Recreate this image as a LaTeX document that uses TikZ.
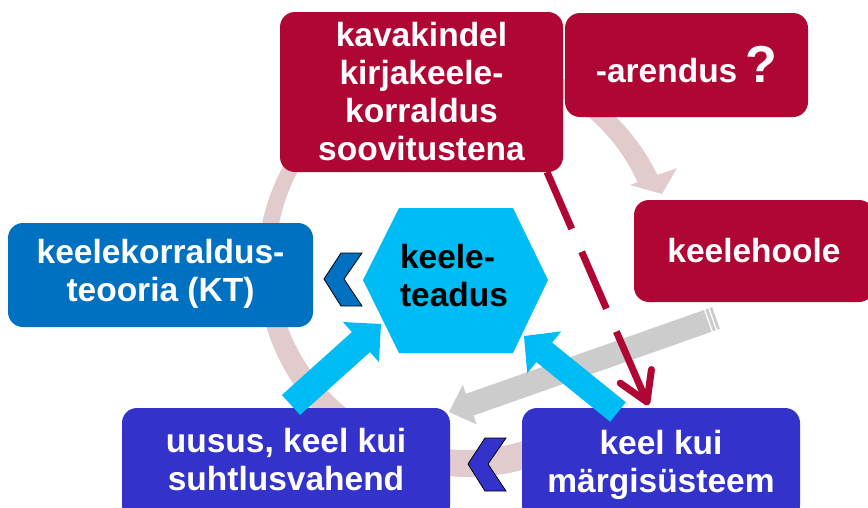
\documentclass[tikz,border=0pt]{standalone}
\usepackage{fontspec}
\setmainfont{Liberation Sans}
\usetikzlibrary{calc}
\definecolor{crim}{RGB}{176,6,52}
\definecolor{ktblue}{RGB}{0,112,192}
\definecolor{purp}{RGB}{51,51,204}
\definecolor{cyanb}{RGB}{0,188,245}
\definecolor{ringc}{RGB}{226,203,205}
\definecolor{grayc}{RGB}{204,204,204}
\newcommand\blockarr[6]{%
  \coordinate (ba-b) at ($(#3)!#6!(#2)$);
  \fill[#1] ($(#2)!#4!90:(#3)$) -- ($(ba-b)!#4!90:(#3)$) -- ($(ba-b)!#5!90:(#3)$) -- (#3)
    -- ($(ba-b)!#5!-90:(#3)$) -- ($(ba-b)!#4!-90:(#3)$) -- ($(#2)!#4!-90:(#3)$) -- cycle;
}
\tikzset{
  boxfont/.style={font=\fontsize{33.5}{38}\selectfont\bfseries},
  box/.style={rectangle, rounded corners=15pt, inner sep=0pt, align=center, text=white, boxfont},
  redbox/.style={box, fill=crim},
  ktbox/.style={box, fill=ktblue},
  purpbox/.style={box, fill=purp},
  chev/.style={draw=black, line width=0.8pt, line join=miter},
}
\begin{document}
\begin{tikzpicture}[x=1pt,y=-1pt]
\useasboundingbox (0,0) rectangle (868,507);
\clip (0,0) rectangle (868,507);
\fill[white] (0,0) rectangle (868,507);

% ring arrow
\fill[ringc] plot[domain=60:334.2, samples=120] ({468+210.4*cos(\x)},{266.6+210.4*sin(\x)})
  -- (677,168) -- (662,194) -- (630,185)
  -- plot[domain=335.6:60, samples=120] ({465+189.5*cos(\x)},{260.5+189.5*sin(\x)}) -- cycle;

% boxes
\node[redbox, minimum width=283pt, minimum height=160pt] (kav) at (421.5,92)
  {kavakindel\\kirjakeele-\\korraldus\\soovitustena};
\node[redbox, minimum width=243pt, minimum height=104pt] (aren) at (686.5,65)
  {-arendus\hspace{8pt}{\fontsize{52}{52}\selectfont ?}};
\node[redbox, minimum width=240pt, minimum height=102pt] (hoole) at (754,251) {keelehoole};
\node[ktbox, minimum width=305pt, minimum height=104pt, text depth=10pt] (kt) at (160.5,275)
  {keelekorraldus-\\teooria (KT)};
\node[purpbox, minimum width=328pt, minimum height=112pt, text depth=9pt] (uus) at (286,464)
  {uusus, keel kui\\suhtlusvahend};
\node[purpbox, minimum width=278pt, minimum height=112pt, text depth=6pt] (marg) at (661,464)
  {keel kui\\märgisüsteem};

% hexagon
\fill[cyanb] (399,208) -- (513,208) -- (548,280) -- (513,353) -- (399,353) -- (363,280) -- cycle;
\node[align=left, inner sep=0pt, boxfont, text=black] (hex) at (454,276) {keele-\\teadus};

% chevrons
\filldraw[chev, fill=ktblue] (341,253) -- (362,253) -- (344,279) -- (362,306) -- (341,306) -- (324,279) -- cycle;
\filldraw[chev, fill=purp] (485,438) -- (506,438) -- (488,464) -- (506,491) -- (485,491) -- (468,464) -- cycle;

% gray striped arrow
\coordinate (ga-s) at (716,318);
\coordinate (ga-t) at (449,412);
\blockarr{grayc}{ga-s}{ga-t}{11.5pt}{21pt}{22pt}
\coordinate (ga-1) at ($(ga-s)!3.5pt!(ga-t)$);
\coordinate (ga-2) at ($(ga-s)!8pt!(ga-t)$);
\draw[white, line width=1.3pt] ($(ga-1)!13pt!90:(ga-t)$) -- ($(ga-1)!13pt!-90:(ga-t)$);
\draw[white, line width=1.3pt] ($(ga-2)!13pt!90:(ga-t)$) -- ($(ga-2)!13pt!-90:(ga-t)$);

% red dashed arrow
\coordinate (rd-s) at (547,172);
\coordinate (rd-t) at (647,402);
\draw[crim, line width=7pt, dash pattern=on 62pt off 25pt on 62pt off 25pt on 300pt off 1pt, shorten >=4pt] (rd-s) -- (rd-t);
\coordinate (rd-b) at ($(rd-t)!28pt!(rd-s)$);
\draw[crim, line width=7pt, line cap=round, line join=round]
  ($(rd-b)!17pt!90:(rd-t)$) -- (rd-t) -- ($(rd-b)!17pt!-90:(rd-t)$);

% cyan arrows
\coordinate (la-s) at (291,405);
\coordinate (la-t) at (381,324);
\blockarr{cyanb}{la-s}{la-t}{13.5pt}{27pt}{27pt}
\coordinate (ra-s) at (618,412);
\coordinate (ra-t) at (524,336);
\blockarr{cyanb}{ra-s}{ra-t}{12.5pt}{27pt}{26pt}
\end{tikzpicture}
\end{document}
